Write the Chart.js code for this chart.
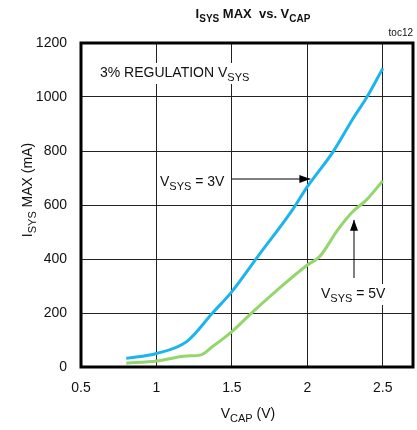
<!DOCTYPE html>
<html>
<head>
<meta charset="utf-8">
<script src="https://cdn.jsdelivr.net/npm/chart.js@4/dist/chart.umd.min.js"></script>
<style>
  html, body { margin: 0; padding: 0; background: #fff; }
  #wrap { width: 417px; height: 430px; position: relative; }
</style>
</head>
<body>
<div id="wrap"><canvas id="chart" width="417" height="430"></canvas></div>
<script>
// valores (V_CAP em V, I_SYS em mA)
const vcap3 = [0.8, 1.0, 1.2, 1.37, 1.5, 1.67, 1.9, 2.0, 2.17, 2.31, 2.39, 2.5];
const isys3 = [32, 50, 94, 199, 279, 408, 581, 668, 797, 927, 995, 1106];

const vcap5 = [0.8, 1.0, 1.2, 1.29, 1.37, 1.5, 1.64, 1.8, 2.0, 2.08, 2.2, 2.3, 2.39, 2.5];
const isys5 = [14, 22, 41, 44, 75, 131, 205, 285, 378, 408, 507, 575, 618, 690];

const xTicks = [0.5, 1, 1.5, 2, 2.5];
const yTicks = [0, 200, 400, 600, 800, 1000, 1200];

const FONT = '"Liberation Sans", Arial, sans-serif';

// escreve texto com partes em subscrito: [[texto, sub?], ...]
function drawParts(ctx, parts, x, y, size, subSize, bold, align) {
    const w = bold ? 'bold ' : '';
    let total = 0;
    parts.forEach(p => {
        ctx.font = w + (p[1] ? subSize : size) + 'px ' + FONT;
        total += ctx.measureText(p[0]).width;
    });
    let cx = align === 'center' ? x - total / 2 : x;
    ctx.textAlign = 'left';
    ctx.textBaseline = 'alphabetic';
    parts.forEach(p => {
        ctx.font = w + (p[1] ? subSize : size) + 'px ' + FONT;
        ctx.fillText(p[0], cx, p[1] ? y + size * 0.28 : y);
        cx += ctx.measureText(p[0]).width;
    });
    return total;
}

function labelBox(ctx, parts, x, y, size, subSize) {
    let total = 0;
    parts.forEach(p => {
        ctx.font = (p[1] ? subSize : size) + 'px ' + FONT;
        total += ctx.measureText(p[0]).width;
    });
    ctx.fillStyle = '#fff';
    ctx.fillRect(x - 3, y - size, total + 6, size + 7);
    ctx.fillStyle = '#111';
    drawParts(ctx, parts, x, y, size, subSize, false, 'left');
}

function arrow(ctx, x1, y1, x2, y2) {
    ctx.save();
    ctx.strokeStyle = '#000';
    ctx.fillStyle = '#000';
    ctx.lineWidth = 1;
    ctx.beginPath();
    ctx.moveTo(x1, y1);
    ctx.lineTo(x2, y2);
    ctx.stroke();
    const a = Math.atan2(y2 - y1, x2 - x1);
    const len = 11, half = 4;
    ctx.beginPath();
    ctx.moveTo(x2, y2);
    ctx.lineTo(x2 - len * Math.cos(a) + half * Math.sin(a), y2 - len * Math.sin(a) - half * Math.cos(a));
    ctx.lineTo(x2 - len * Math.cos(a) - half * Math.sin(a), y2 - len * Math.sin(a) + half * Math.cos(a));
    ctx.closePath();
    ctx.fill();
    ctx.restore();
}

const extras = {
    id: 'extras',
    beforeDatasetsDraw(chart) {
        const ctx = chart.ctx;
        const xs = chart.scales.x, ys = chart.scales.y;
        ctx.save();
        // rótulos com fundo branco (tapam a grelha)
        labelBox(ctx, [['3% REGULATION V', false], ['SYS', true]], 100, 77, 14, 11);
        labelBox(ctx, [['V', false], ['SYS', true], [' = 3V', false]], 160, 186, 14, 11);
        labelBox(ctx, [['V', false], ['SYS', true], [' = 5V', false]], 321, 298, 14, 11);
        arrow(ctx, 232, 179, xs.getPixelForValue(2.02), 179);
        arrow(ctx, 354, 278, 354, ys.getPixelForValue(545));
        ctx.restore();
    },
    afterDraw(chart) {
        const ctx = chart.ctx;
        const a = chart.chartArea;
        ctx.save();
        ctx.strokeStyle = '#000';
        ctx.lineWidth = 3;
        ctx.strokeRect(a.left, a.top, a.right - a.left, a.bottom - a.top);

        ctx.fillStyle = '#111';
        drawParts(ctx, [['I', false], ['SYS', true], [' MAX  vs. V', false], ['CAP', true]], 253, 18, 13, 10, true, 'center');

        ctx.font = '10px ' + FONT;
        ctx.textAlign = 'right';
        ctx.fillText('toc12', 413, 36);

        drawParts(ctx, [['V', false], ['CAP', true], [' (V)', false]], 248, 418, 14, 11, false, 'center');

        ctx.translate(32, 190);
        ctx.rotate(-Math.PI / 2);
        drawParts(ctx, [['I', false], ['SYS', true], [' MAX (mA)', false]], 0, 0, 14, 11, false, 'center');
        ctx.restore();
    }
};

new Chart(document.getElementById('chart'), {
    type: 'line',
    data: {
        datasets: [{
            label: 'VSYS = 3V',
            data: vcap3.map((v, i) => ({ x: v, y: isys3[i] })),
            borderColor: '#1cb4ec',
            borderWidth: 3,
            pointRadius: 0,
            cubicInterpolationMode: 'monotone'
        }, {
            label: 'VSYS = 5V',
            data: vcap5.map((v, i) => ({ x: v, y: isys5[i] })),
            borderColor: '#93d66c',
            borderWidth: 3,
            pointRadius: 0,
            cubicInterpolationMode: 'monotone'
        }]
    },
    options: {
        responsive: false,
        animation: false,
        layout: { padding: { top: 43, right: 4, left: 0, bottom: 0 } },
        plugins: { legend: { display: false }, tooltip: { enabled: false }, title: { display: false } },
        scales: {
            x: {
                type: 'linear',
                min: 0.5,
                max: 2.7,
                afterBuildTicks: s => { s.ticks = xTicks.map(v => ({ value: v })); },
                afterFit: s => { s.height = 63; },
                grid: { color: '#222', lineWidth: 1, drawTicks: false },
                border: { display: false },
                ticks: { color: '#111', font: { family: FONT, size: 14 }, padding: 13, callback: v => String(v) }
            },
            y: {
                min: 0,
                max: 1200,
                afterBuildTicks: s => { s.ticks = yTicks.map(v => ({ value: v })); },
                afterFit: s => { s.width = 81; },
                grid: { color: '#222', lineWidth: 1, drawTicks: false },
                border: { display: false },
                ticks: { color: '#111', font: { family: FONT, size: 14 }, padding: 14, callback: v => String(v) }
            }
        }
    },
    plugins: [extras]
});
</script>
</body>
</html>
